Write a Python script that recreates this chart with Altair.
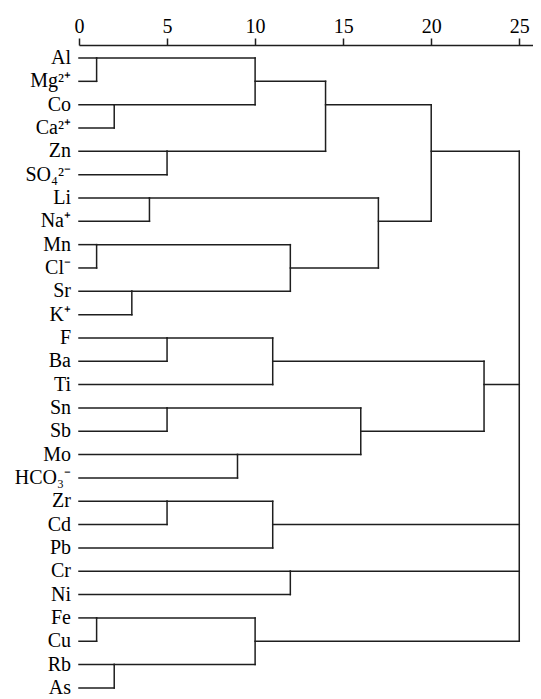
import altair as alt
import pandas as pd

# Leaf labels, top to bottom
labels = ["Al", "Mg²⁺", "Co", "Ca²⁺", "Zn", "SO₄²⁻", "Li", "Na⁺", "Mn", "Cl⁻", "Sr", "K⁺",
          "F", "Ba", "Ti", "Sn", "Sb", "Mo", "HCO₃⁻", "Zr", "Cd", "Pb", "Cr", "Ni",
          "Fe", "Cu", "Rb", "As"]

# Merges (leaf ids 0..27, merge ids start at 28 in this order)
merge_children = [[0, 1], [2, 3], [28, 29], [4, 5], [30, 31], [6, 7], [8, 9], [10, 11],
                  [34, 35], [33, 36], [32, 37], [12, 13], [39, 14], [15, 16], [17, 18],
                  [41, 42], [40, 43], [19, 20], [45, 21], [22, 23], [24, 25], [26, 27],
                  [48, 49], [38, 44, 46, 47, 50]]
# Rescaled distance at which each merge happens
merge_dist = [1, 2, 10, 5, 14, 4, 1, 3, 12, 17, 20, 5, 11, 5, 9, 16, 23, 5, 11, 12, 1, 2, 10, 25]
# Row on which the merged cluster's line continues
merge_row = [0, 2, 1, 4, 2, 6, 8, 10, 9, 7, 4, 12, 13, 15, 17, 16, 14, 19, 20, 22, 24, 26, 25, 14]

tick_values = [0, 5, 10, 15, 20, 25]

n = len(labels)
height = [0] * n + merge_dist
row = list(range(n)) + merge_row

segs = []
for k, ch in enumerate(merge_children):
    h = merge_dist[k]
    for c in ch:
        segs.append({"x": height[c], "x2": h, "y": row[c], "y2": row[c]})
    rows = [row[c] for c in ch]
    segs.append({"x": h, "x2": h, "y": min(rows), "y2": max(rows)})
seg_df = pd.DataFrame(segs)
lab_df = pd.DataFrame({"label": labels, "row": list(range(n))})

FONT = "Liberation Serif"
INK = "#1e1e1e"

xs = alt.Scale(domain=[0, 25.78], nice=False, zero=False)
ys = alt.Scale(domain=[-0.557, 27.475], nice=False, zero=False, reverse=True)

rules = alt.Chart(seg_df).mark_rule(color=INK, strokeWidth=1.5, strokeCap="square").encode(
    x=alt.X("x:Q", scale=xs, axis=alt.Axis(orient="top", values=tick_values, title=None,
                                           grid=False, tickSize=7, tickColor=INK, tickWidth=1.5,
                                           domainColor=INK, domainWidth=1.5,
                                           labelFont=FONT, labelFontSize=20, labelColor="#000",
                                           labelPadding=2, labelFlush=False, format="d")),
    x2="x2:Q",
    y=alt.Y("y:Q", scale=ys, axis=alt.Axis(labels=False, ticks=False, grid=False, title=None,
                                           domainColor=INK, domainWidth=1.5)),
    y2="y2:Q",
)

text = alt.Chart(lab_df).mark_text(align="right", baseline="middle", dx=-8,
                                   font=FONT, fontSize=20, color="#000").encode(
    x=alt.value(0),
    y=alt.Y("row:Q", scale=ys, axis=None),
    text="label:N",
)

chart = alt.layer(rules, text).properties(
    width=454, height=654,
    autosize=alt.AutoSizeParams(type="none"),
    padding={"left": 71, "top": 37, "right": 0, "bottom": 0},
).configure_view(stroke=None)

chart.save("out.html", embed_options={"renderer": "svg", "actions": False})
